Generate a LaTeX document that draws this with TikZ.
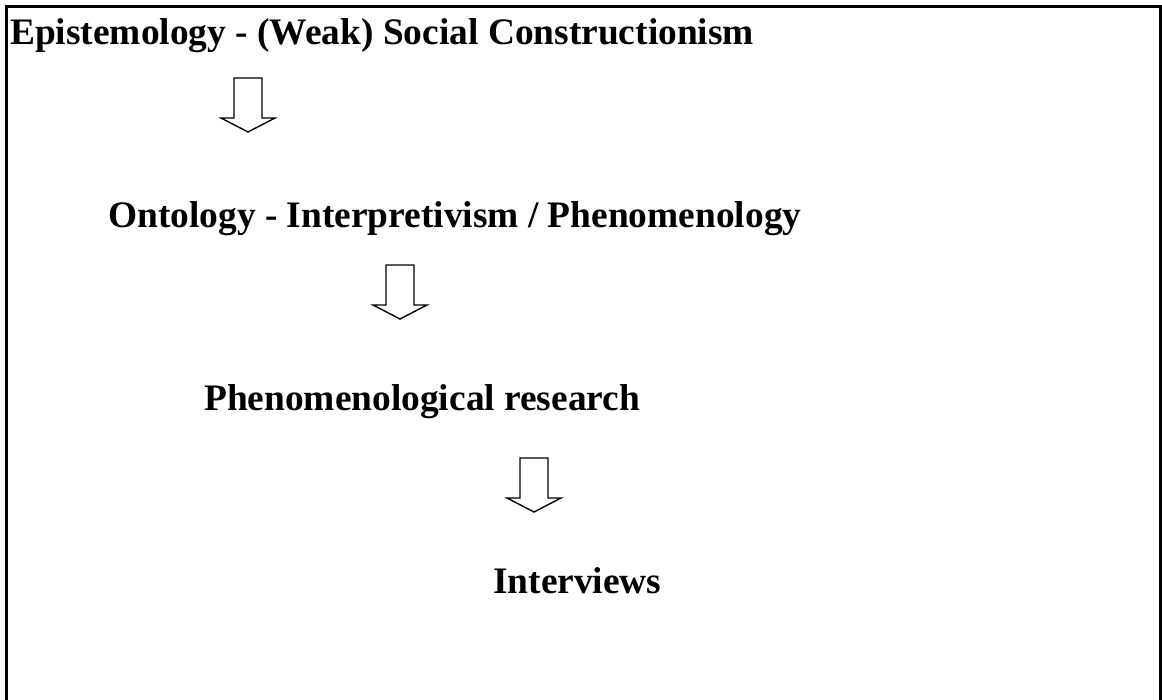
\documentclass[tikz,border=0pt]{standalone}
\usepackage{fontspec}
\setmainfont{Liberation Serif}
\begin{document}
\begin{tikzpicture}[x=1pt,y=-1pt,
  lbl/.style={anchor=base west,inner sep=0pt,font=\fontsize{37.4}{44}\selectfont\bfseries},
  frame/.style={line width=3pt,line cap=rect},
  blockarrow/.pic={\draw[line width=1.4pt,line join=miter] (-14,0) -- (14,0) -- (14,40) -- (27,40) -- (0,54) -- (-27,40) -- (-14,40) -- cycle;}]
\useasboundingbox (0,0) rectangle (1162,700);
\draw[frame] (6.5,702) -- (6.5,6.5) -- (1160.5,6.5) -- (1160.5,702);
\node[lbl] (epi) at (10,45) {Epistemology - (Weak) Social Constructionism};
\node[lbl] (ont) at (108,228) {Ontology - Interpretivism / Phenomenology};
\node[lbl] (phe) at (204,410) {Phenomenological research};
\node[lbl] (int) at (493,593) {Interviews};
\pic at (248,78) {blockarrow};
\pic at (400,265) {blockarrow};
\pic at (534,458) {blockarrow};
\end{tikzpicture}
\end{document}
